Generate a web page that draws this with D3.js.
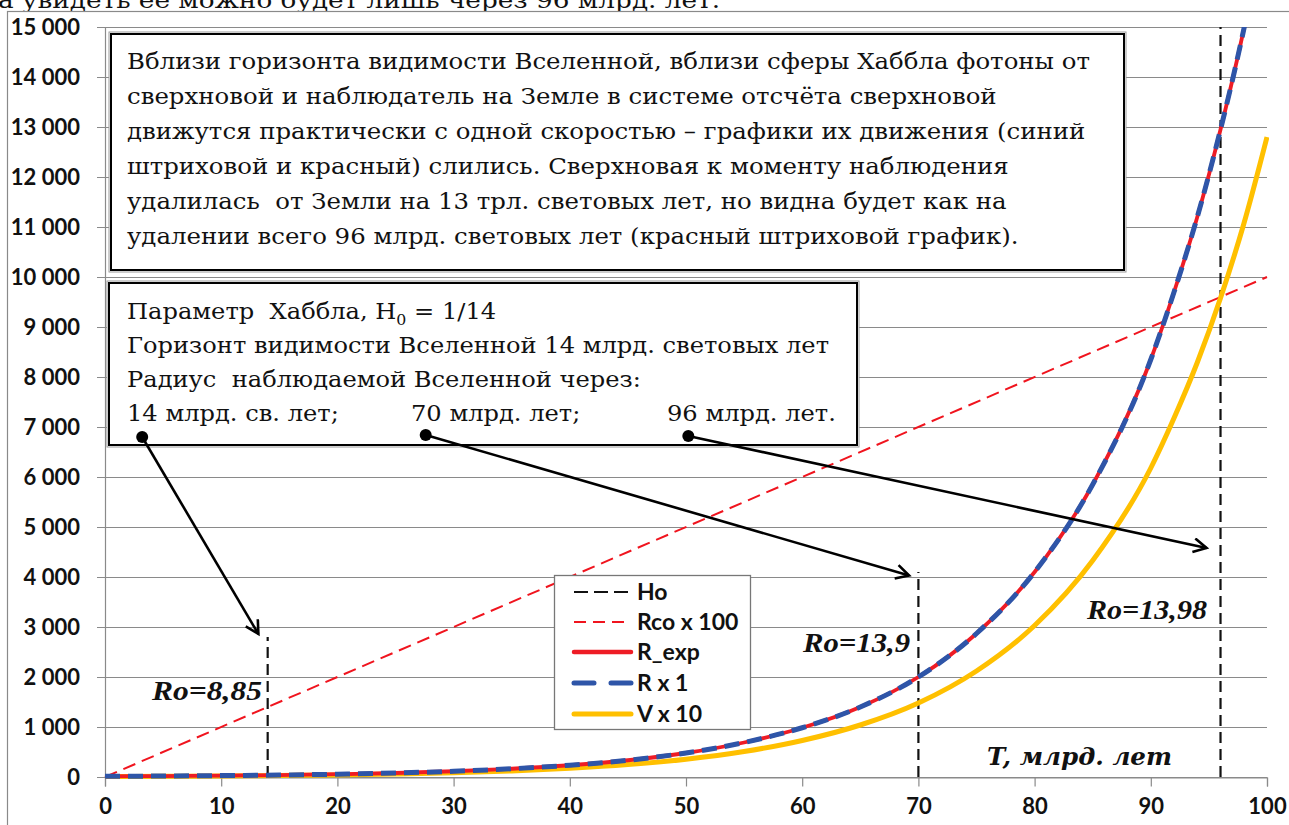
<!DOCTYPE html>
<html><head><meta charset="utf-8">
<script src="https://cdn.jsdelivr.net/npm/d3@7"></script>
<style>
html,body{margin:0;padding:0;background:#fff;overflow:hidden}
svg{display:block}
text{white-space:pre}
</style></head>
<body>
<svg id="chart" width="1289" height="825"></svg>
<script>
// ---------- data ----------
const T      = [0, 5, 10, 15, 20, 25, 30, 35, 40, 45, 50, 55, 60, 65, 70, 75, 80, 85, 90, 92, 94, 96, 98, 100];
const rExp   = [14, 19, 28, 39, 56, 80, 115, 165, 235, 335, 480, 690, 985, 1400, 2000, 2870, 4100, 5850, 8350, 9700, 11200, 12950, 14950, 17300];
const rX1    = [14, 19, 28, 39, 56, 80, 115, 165, 235, 335, 480, 690, 985, 1400, 2000, 2870, 4100, 5850, 8350, 9700, 11200, 12950, 14950, 17300];
const vX10   = [10, 14, 21, 29, 41, 59, 85, 122, 174, 248, 355, 510, 730, 1040, 1480, 2120, 3030, 4330, 6180, 7180, 8290, 9580, 11060, 12800];
const rcoT   = [0, 100];
const rcoX100= [0, 10000];
const hoT    = [14, 70, 96];
const hoTop  = [2800, 4100, 15000];
const roLabels = ["Ro=8,85", "Ro=13,9", "Ro=13,98"];
const xTicks = [0, 10, 20, 30, 40, 50, 60, 70, 80, 90, 100];
const xTickLabels = ["0", "10", "20", "30", "40", "50", "60", "70", "80", "90", "100"];
const yTicks = [0, 1000, 2000, 3000, 4000, 5000, 6000, 7000, 8000, 9000, 10000, 11000, 12000, 13000, 14000, 15000];
const yTickLabels = ["0", "1 000", "2 000", "3 000", "4 000", "5 000", "6 000", "7 000", "8 000", "9 000", "10 000", "11 000", "12 000", "13 000", "14 000", "15 000"];
const legendNames = ["Ho", "Rco x 100", "R_exp", "R x 1", "V x 10"];
const xAxisTitle = "T, млрд. лет";
const topText = "а увидеть ее можно будет лишь через 96 млрд. лет.";
const box1Lines = [
  "Вблизи горизонта видимости Вселенной, вблизи сферы Хаббла фотоны от",
  "сверхновой и наблюдатель на Земле в системе отсчёта сверхновой",
  "движутся практически с одной скоростью – графики их движения (синий",
  "штриховой и красный) слились. Сверхновая к моменту наблюдения",
  "удалилась  от Земли на 13 трл. световых лет, но видна будет как на",
  "удалении всего 96 млрд. световых лет (красный штриховой график)."
];
const box2Lines = [
  "Горизонт видимости Вселенной 14 млрд. световых лет",
  "Радиус  наблюдаемой Вселенной через:"
];
const box2Parts = ["14 млрд. св. лет;", "70 млрд. лет;", "96 млрд. лет."];
// arrow anchors in data units [T, value]
const arrowFrom = [[3.2, 6800], [27.6, 6840], [50.2, 6820]];
const arrowTo   = [[13.2, 2860], [69.2, 4030], [94.8, 4580]];

// ---------- layout ----------
const svg = d3.select("#chart");
const x = d3.scaleLinear().domain([0, 100]).range([105, 1267]);
const y = d3.scaleLinear().domain([0, 15000]).range([777, 27]);
const SERIF = "'DejaVu Serif','Liberation Serif',serif";
const SERIF_L = "'Liberation Serif','DejaVu Serif',serif";
const SANS = "Lato,'Open Sans',sans-serif";
const GRID = "#8a8a8a";

svg.append("rect").attr("width", 1289).attr("height", 825).attr("fill", "#fff");

// text above (from page)
const tt = svg.append("text").attr("x", -2).attr("y", 8).attr("font-family", SERIF)
  .attr("font-size", 23).attr("fill", "#111").text(topText);
tt.attr("textLength", 722).attr("lengthAdjust", "spacingAndGlyphs");

// chart area border
svg.append("rect").attr("x", 7.5).attr("y", 11.5).attr("width", 1400).attr("height", 900)
  .attr("fill", "#fff").attr("stroke", GRID).attr("stroke-width", 1.2);

// gridlines
svg.append("g").selectAll("line").data(yTicks).join("line")
  .attr("x1", 97).attr("x2", x(100))
  .attr("y1", d => Math.round(y(d)) + 0.5).attr("y2", d => Math.round(y(d)) + 0.5)
  .attr("stroke", GRID).attr("stroke-width", 1.2);

// y axis line
svg.append("line").attr("x1", 105.5).attr("x2", 105.5).attr("y1", y(15000)).attr("y2", y(0))
  .attr("stroke", GRID).attr("stroke-width", 1.2);

// x axis
const xAxis = d3.axisBottom(x).tickValues(xTicks).tickFormat((d, i) => xTickLabels[i]).tickSize(9).tickPadding(12);
const gx = svg.append("g").attr("transform", `translate(0,${Math.round(y(0)) + 0.5})`).call(xAxis);
gx.select(".domain").attr("stroke", GRID).attr("stroke-width", 1.2);
gx.selectAll(".tick line").attr("stroke", GRID).attr("stroke-width", 1.2);
gx.selectAll("text").attr("font-family", SANS).attr("font-weight", 700).attr("font-size", 22).attr("fill", "#111");

// y labels
svg.append("g").selectAll("text").data(yTicks).join("text")
  .attr("x", 80).attr("y", d => y(d) + 8).attr("text-anchor", "end")
  .attr("font-family", SANS).attr("font-weight", 700).attr("font-size", 22).attr("fill", "#111")
  .text((d, i) => yTickLabels[i]);

// clip
svg.append("clipPath").attr("id", "plotclip").append("rect")
  .attr("x", x(0) - 2).attr("y", y(15000)).attr("width", x(100) - x(0) + 4).attr("height", y(0) - y(15000) + 2);

const plot = svg.append("g").attr("clip-path", "url(#plotclip)");
const line = d3.line().x(d => x(d[0])).y(d => y(d[1])).curve(d3.curveMonotoneX);

// Rco x 100
plot.append("path").datum(rcoT.map((t, i) => [t, rcoX100[i]])).attr("d", d3.line().x(d => x(d[0])).y(d => y(d[1])))
  .attr("fill", "none").attr("stroke", "#f0141e").attr("stroke-width", 2).attr("stroke-dasharray", "13,7");

// Ho vertical dashed
plot.append("g").selectAll("line").data(hoT).join("line")
  .attr("x1", d => x(d)).attr("x2", d => x(d))
  .attr("y1", y(0)).attr("y2", (d, i) => y(hoTop[i]))
  .attr("stroke", "#111").attr("stroke-width", 2.2).attr("stroke-dasharray", "11,6");

// V x 10
plot.append("path").datum(T.map((t, i) => [t, vX10[i]])).attr("d", line)
  .attr("fill", "none").attr("stroke", "#ffc000").attr("stroke-width", 5);
// R_exp
plot.append("path").datum(T.map((t, i) => [t, rExp[i]])).attr("d", line)
  .attr("fill", "none").attr("stroke", "#ee1c25").attr("stroke-width", 3.8);
// R x 1
plot.append("path").datum(T.map((t, i) => [t, rX1[i]])).attr("d", line)
  .attr("fill", "none").attr("stroke", "#2e55a8").attr("stroke-width", 5).attr("stroke-dasharray", "15,8");

// Ro labels
const roPos = [[262, 700], [910, 652], [1207, 619]];
const roWidths = [110, 107, 120];
svg.append("g").selectAll("text").data(roLabels).join("text")
  .attr("x", (d, i) => roPos[i][0]).attr("y", (d, i) => roPos[i][1]).attr("text-anchor", "end")
  .attr("font-family", SERIF_L).attr("font-weight", 700).attr("font-style", "italic").attr("font-size", 27).attr("fill", "#111")
  .attr("textLength", (d, i) => roWidths[i]).attr("lengthAdjust", "spacingAndGlyphs")
  .text(d => d);

// axis title
svg.append("text").attr("x", 987).attr("y", 765)
  .attr("font-family", SERIF).attr("font-weight", 700).attr("font-style", "italic").attr("font-size", 25).attr("fill", "#111")
  .attr("textLength", 185).attr("lengthAdjust", "spacingAndGlyphs").text(xAxisTitle);

// legend
const lg = svg.append("g");
lg.append("rect").attr("x", 554.5).attr("y", 575.5).attr("width", 196).attr("height", 154)
  .attr("fill", "#fff").attr("stroke", "#777").attr("stroke-width", 1.3);
const legY = [592, 622, 652, 683, 714];
const legStyle = [
  {c: "#111", w: 2.2, da: "14,6"},
  {c: "#f0141e", w: 2, da: "12,7"},
  {c: "#ee1c25", w: 4.5, da: null},
  {c: "#2e55a8", w: 5, da: "20,17"},
  {c: "#ffc000", w: 5, da: null}
];
legendNames.forEach((n, i) => {
  lg.append("line").attr("x1", 574).attr("x2", 631).attr("y1", legY[i]).attr("y2", legY[i])
    .attr("stroke", legStyle[i].c).attr("stroke-width", legStyle[i].w)
    .attr("stroke-dasharray", legStyle[i].da).attr("stroke-linecap", i >= 2 ? "round" : "butt");
  lg.append("text").attr("x", 637).attr("y", legY[i] + 8)
    .attr("font-family", SANS).attr("font-weight", 700).attr("font-size", 23).attr("fill", "#111").text(n);
});

// boxes
function box(x0, y0, x1, y1) {
  svg.append("rect").attr("x", x0 - 2).attr("y", y0 - 2).attr("width", x1 - x0 + 4).attr("height", y1 - y0 + 4)
    .attr("fill", "#fff").attr("stroke", "#9a9a9a").attr("stroke-width", 1);
  svg.append("rect").attr("x", x0).attr("y", y0).attr("width", x1 - x0).attr("height", y1 - y0)
    .attr("fill", "#fff").attr("stroke", "#000").attr("stroke-width", 2);
}
box(111, 34, 1124, 270);
box(109, 283, 857, 445);

const FS = 23;
// box 1 text
const b1 = svg.append("g").attr("font-family", SERIF).attr("font-size", FS).attr("fill", "#111");
const b1Base = [69, 104, 139, 174, 209, 244];
const b1t = b1.selectAll("text").data(box1Lines).join("text")
  .attr("x", 127).attr("y", (d, i) => b1Base[i]).text(d => d);
const k1 = 963 / b1t.nodes()[0].getComputedTextLength();
b1t.each(function () { const w = this.getComputedTextLength(); d3.select(this).attr("textLength", w * k1).attr("lengthAdjust", "spacingAndGlyphs"); });

// box 2 text
const b2 = svg.append("g").attr("font-family", SERIF).attr("font-size", FS).attr("fill", "#111");
const l2 = b2.append("text").attr("x", 127).attr("y", 353).text(box2Lines[0]);
const k2 = 702 / l2.node().getComputedTextLength();
l2.attr("textLength", 702).attr("lengthAdjust", "spacingAndGlyphs");
const l3 = b2.append("text").attr("x", 127).attr("y", 387).text(box2Lines[1]);
l3.attr("textLength", l3.node().getComputedTextLength() * k2).attr("lengthAdjust", "spacingAndGlyphs");
const l1 = b2.append("text").attr("x", 127).attr("y", 319);
l1.append("tspan").text("Параметр  Хаббла, H");
l1.append("tspan").attr("font-size", 15).attr("dy", 6).text("0");
l1.append("tspan").attr("dy", -6).text(" = 1/14");
l1.attr("transform", `translate(127,0) scale(${k2},1) translate(-127,0)`);
const p4x = [127, 411, 667];
box2Parts.forEach((p, i) => {
  const t = b2.append("text").attr("x", p4x[i]).attr("y", 421).text(p);
  t.attr("textLength", t.node().getComputedTextLength() * k2).attr("lengthAdjust", "spacingAndGlyphs");
});

// arrows
const defs = svg.append("defs");
defs.append("marker").attr("id", "ah").attr("markerUnits", "userSpaceOnUse")
  .attr("markerWidth", 18).attr("markerHeight", 18).attr("refX", 15).attr("refY", 8).attr("orient", "auto")
  .append("path").attr("d", "M2,1 L15,8 L2,15").attr("fill", "none").attr("stroke", "#000").attr("stroke-width", 2.6);
const ag = svg.append("g");
arrowFrom.forEach((f, i) => {
  const to = arrowTo[i];
  ag.append("line").attr("x1", x(f[0])).attr("y1", y(f[1])).attr("x2", x(to[0])).attr("y2", y(to[1]))
    .attr("stroke", "#000").attr("stroke-width", 2.6).attr("marker-end", "url(#ah)");
  ag.append("circle").attr("cx", x(f[0])).attr("cy", y(f[1])).attr("r", 6).attr("fill", "#000");
});
</script>
</body></html>
